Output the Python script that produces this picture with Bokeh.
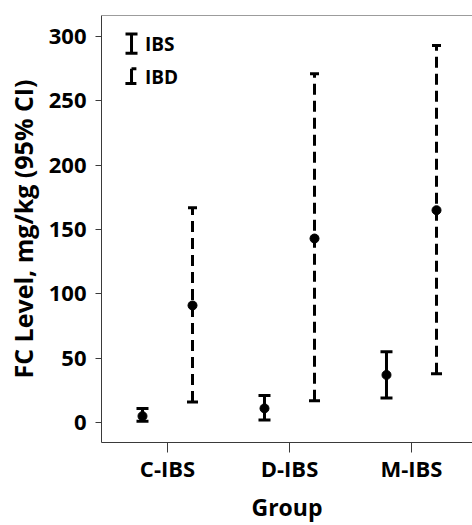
from bokeh.plotting import figure
from bokeh.models import FixedTicker, Range1d, Span
from bokeh.core.properties import value
from bokeh.embed import file_html
from bokeh.resources import INLINE

# ---- data ----
groups = ["C-IBS", "D-IBS", "M-IBS"]
ibs_mean = [5, 11, 37]
ibs_lower = [1, 2, 19]
ibs_upper = [11, 21, 55]
ibd_mean = [91, 143, 165]
ibd_lower = [16, 17, 38]
ibd_upper = [167, 271, 293]
y_ticks = [0, 50, 100, 150, 200, 250, 300]

FONT = "Open Sans"
pos = [1, 2, 3]
off = 0.205
x_ibs = [p_ - off for p_ in pos]
x_ibd = [p_ + off for p_ in pos]

Y0, Y1 = -15.5, 316.3
p = figure(width=472, height=525, output_backend="svg", toolbar_location=None,
           x_range=Range1d(0.459, 3.50), y_range=Range1d(Y0, Y1),
           min_border_left=101, min_border_right=0, min_border_top=15, min_border_bottom=82)
p.outline_line_color = None
p.grid.visible = False
p.background_fill_color = "white"
p.border_fill_color = "white"

axis_col = "#3a3a3a"
for ax in (p.xaxis[0], p.yaxis[0]):
    ax.axis_line_color = axis_col
    ax.major_tick_line_color = axis_col
    ax.minor_tick_line_color = None
    ax.major_tick_in = 0
    ax.major_label_text_font = FONT
    ax.major_label_text_font_style = "bold"
    ax.major_label_text_font_size = "22px"
    ax.major_label_text_color = "black"
    ax.axis_label_text_font = FONT
    ax.axis_label_text_font_style = "bold"
    ax.axis_label_text_color = "black"

p.xaxis.ticker = FixedTicker(ticks=pos)
p.xaxis.major_label_overrides = {i + 1: g for i, g in enumerate(groups)}
p.xaxis.major_tick_out = 10
p.xaxis.major_label_standoff = 0
p.xaxis.axis_label = "Group"
p.xaxis.axis_label_text_font_size = "23px"
p.xaxis.axis_label_standoff = 5

p.yaxis.ticker = FixedTicker(ticks=y_ticks)
p.yaxis.major_tick_out = 6
p.yaxis.major_label_standoff = 9
p.yaxis.axis_label = "FC Level, mg/kg (95% CI)"
p.yaxis.axis_label_text_font_size = "25px"
p.yaxis.axis_label_standoff = 6

p.add_layout(Span(location=Y1, dimension="width", line_color=axis_col, line_width=1))

# IBS error bars (solid)
p.segment(x_ibs, ibs_lower, x_ibs, ibs_upper, line_color="black", line_width=3)
p.scatter(x_ibs, ibs_lower, marker="dash", size=12, line_color="black", line_width=3)
p.scatter(x_ibs, ibs_upper, marker="dash", size=12, line_color="black", line_width=3)
p.scatter(x_ibs, ibs_mean, marker="circle", size=9, color="black")

# IBD error bars (dashed)
p.segment(x_ibd, ibd_lower, x_ibd, ibd_upper, line_color="black", line_width=3,
          line_dash="11 6")
p.scatter(x_ibd, ibd_lower, marker="dash", size=11, line_color="black", line_width=3)
p.scatter(x_ibd, ibd_upper, marker="dash", size=9, line_color="black", line_width=3)
p.scatter(x_ibd, ibd_mean, marker="circle", size=9, color="black")

# legend (drawn inside the frame)
lx = 0.705
leg_labels = ["IBS", "IBD"]
leg_top = [302, 275]
leg_bot = [287, 263.5]
leg_mid = [294, 268.5]
p.segment([lx], [leg_bot[0]], [lx], [leg_top[0]], line_color="black", line_width=3)
p.scatter([lx, lx], [leg_bot[0], leg_top[0]], marker="dash", size=12,
          line_color="black", line_width=3)
p.segment([lx], [leg_bot[1]], [lx], [leg_top[1]], line_color="black", line_width=3)
p.segment([lx], [leg_top[1]], [lx + 0.04], [leg_top[1]], line_color="black", line_width=3)
p.segment([lx - 0.05], [leg_bot[1]], [lx + 0.04], [leg_bot[1]], line_color="black", line_width=3)
p.text([lx + 0.11] * 2, leg_mid, text=leg_labels, text_font=value(FONT),
       text_font_style="bold", text_font_size="19px", text_baseline="middle",
       text_align="left", text_color="black")

open("out.html", "w").write(file_html(p, INLINE))
